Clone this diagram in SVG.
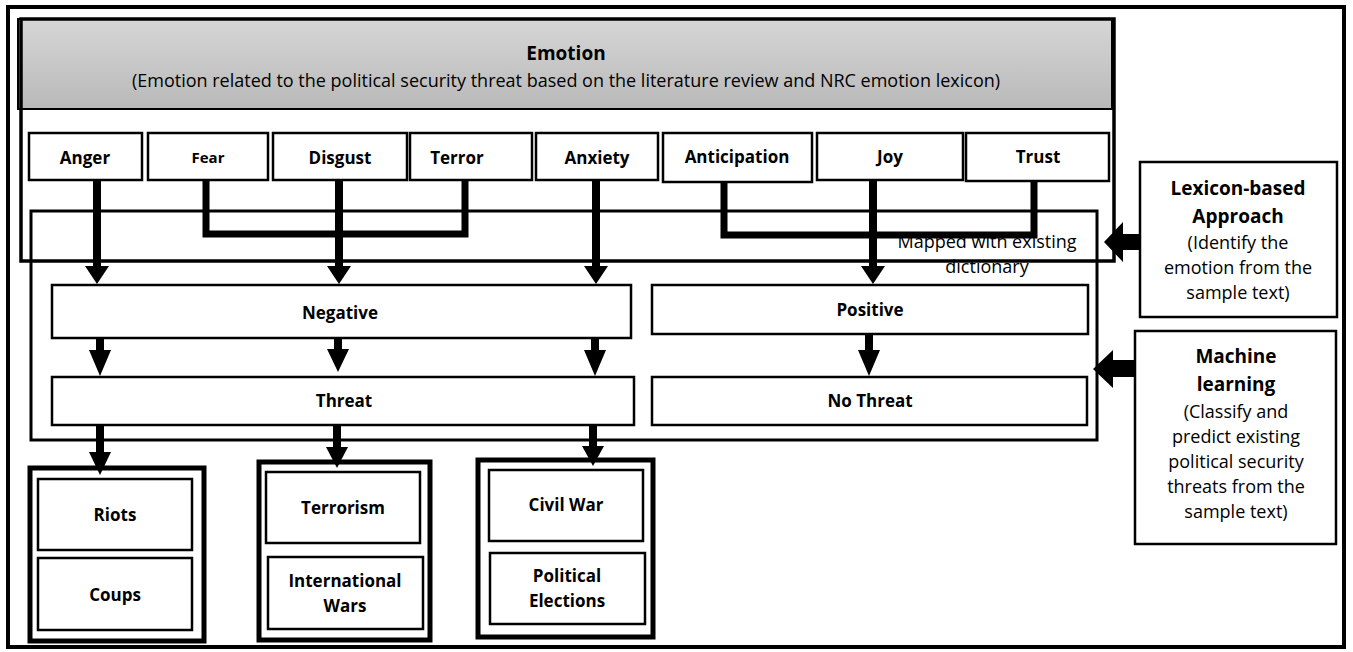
<svg xmlns="http://www.w3.org/2000/svg" width="1353" height="652" viewBox="0 0 1353 652">
<defs>
<linearGradient id="gray" x1="0" y1="0" x2="0" y2="1">
<stop offset="0" stop-color="#d6d6d6"/>
<stop offset="1" stop-color="#b9b9b9"/>
</linearGradient>
<style>
text{font-family:"Open Sans","Liberation Sans",sans-serif;fill:#000;text-anchor:middle}
.b{font-weight:bold;font-size:17px}
.r{font-size:18px}
.t{font-weight:bold;font-size:19px}
.box{fill:#fff;stroke:#000;stroke-width:2.5}
.frame{fill:none;stroke:#000}
.conn{fill:none;stroke:#000;stroke-width:7;stroke-linejoin:miter}
.ah{fill:#000;stroke:none}
</style>
</defs>
<rect x="0" y="0" width="1353" height="652" fill="#fff"/>
<!-- outer frame -->
<rect x="8" y="7" width="1336" height="640" class="frame" stroke-width="4"/>

<!-- emotion header frame -->
<g id="emotion">
<rect x="18" y="19" width="1094" height="90" fill="url(#gray)" stroke="#000" stroke-width="2"/>
<rect x="21" y="19" width="1093" height="242" class="frame" stroke-width="3.5"/>
<text x="566" y="60" class="t">Emotion</text>
<text x="566" y="87" class="r">(Emotion related to the political security threat based on the literature review and NRC emotion lexicon)</text>
</g>

<!-- sentiment frame -->
<rect id="sentiment-frame" x="31" y="211" width="1066" height="229" class="frame" stroke-width="3"/>

<g id="anger"><rect x="29" y="133" width="113" height="47" class="box"/><text x="85" y="164" class="b">Anger</text></g>
<g id="fear"><rect x="148" y="133" width="120" height="47" class="box"/><text x="208" y="163" class="b" style="font-size:15px">Fear</text></g>
<g id="disgust"><rect x="273" y="133" width="134" height="47" class="box"/><text x="340" y="164" class="b">Disgust</text></g>
<g id="terror"><rect x="410" y="133" width="122" height="47" class="box"/><text x="457" y="164" class="b">Terror</text></g>
<g id="anxiety"><rect x="536" y="133" width="122" height="47" class="box"/><text x="597" y="164" class="b">Anxiety</text></g>
<g id="anticipation"><rect x="663" y="133" width="149" height="49" class="box"/><text x="737" y="163" class="b">Anticipation</text></g>
<g id="joy"><rect x="817" y="133" width="146" height="47" class="box"/><text x="890" y="163" class="b">Joy</text></g>
<g id="trust"><rect x="966" y="133" width="143" height="48" class="box"/><text x="1038" y="163" class="b">Trust</text></g>

<g id="negative"><rect x="52" y="285" width="579" height="53" class="box"/><text x="340" y="319" class="b">Negative</text></g>
<g id="positive"><rect x="652" y="285" width="436" height="49" class="box"/><text x="870" y="316" class="b">Positive</text></g>
<g id="threat"><rect x="52" y="377" width="582" height="48" class="box"/><text x="344" y="407" class="b">Threat</text></g>
<g id="no-threat"><rect x="652" y="377" width="435" height="48" class="box"/><text x="870" y="407" class="b">No Threat</text></g>

<g id="group1">
<rect x="30" y="468" width="174" height="173" class="frame" stroke-width="5"/>
<g id="riots"><rect x="38" y="479" width="154" height="71" class="box"/><text x="115" y="521" class="b">Riots</text></g>
<g id="coups"><rect x="38" y="558" width="154" height="72" class="box"/><text x="115" y="601" class="b">Coups</text></g>
</g>
<g id="group2">
<rect x="259" y="462" width="171" height="178" class="frame" stroke-width="5"/>
<g id="terrorism"><rect x="266" y="472" width="154" height="71" class="box"/><text x="343" y="514" class="b">Terrorism</text></g>
<g id="intl-wars"><rect x="268" y="557" width="155" height="72" class="box"/><text x="345" y="587" class="b">International</text><text x="345" y="612" class="b">Wars</text></g>
</g>
<g id="group3">
<rect x="478" y="460" width="175" height="177" class="frame" stroke-width="5"/>
<g id="civil-war"><rect x="489" y="470" width="154" height="71" class="box"/><text x="566" y="511" class="b">Civil War</text></g>
<g id="elections"><rect x="490" y="553" width="155" height="71" class="box"/><text x="567" y="582" class="b">Political</text><text x="567" y="607" class="b">Elections</text></g>
</g>

<g id="lexicon">
<rect x="1140" y="162" width="197" height="155" class="box"/>
<text x="1238" y="195" class="t">Lexicon-based</text>
<text x="1238" y="223" class="t">Approach</text>
<text x="1238" y="249" class="r">(Identify the</text>
<text x="1238" y="274" class="r">emotion from the</text>
<text x="1238" y="299" class="r">sample text)</text>
</g>
<g id="machine-learning">
<rect x="1135" y="331" width="201" height="213" class="box"/>
<text x="1236" y="363" class="t">Machine</text>
<text x="1236" y="391" class="t">learning</text>
<text x="1236" y="418" class="r">(Classify and</text>
<text x="1236" y="443" class="r">predict existing</text>
<text x="1236" y="468" class="r">political security</text>
<text x="1236" y="493" class="r">threats from the</text>
<text x="1236" y="518" class="r">sample text)</text>
</g>

<g id="connectors">
<!-- emotion -> negative/positive -->
<rect x="93" y="180" width="8" height="87" class="ah"/><polygon points="85,266 109,266 97,284" class="ah"/>
<rect x="335" y="180" width="8" height="87" class="ah"/><polygon points="327,266 351,266 339,284" class="ah"/>
<rect x="592" y="180" width="8" height="87" class="ah"/><polygon points="584,266 608,266 596,284" class="ah"/>
<rect x="869" y="180" width="8" height="87" class="ah"/><polygon points="861,266 885,266 873,284" class="ah"/>
<polyline points="206,180 206,234 465,234 465,180" class="conn"/>
<polyline points="724,182 724,235 1034,235 1034,181" class="conn"/>
<!-- negative -> threat -->
<rect x="96" y="338" width="8" height="13" class="ah"/><polygon points="89,350 111,350 100,376" class="ah"/>
<rect x="334" y="338" width="8" height="12" class="ah"/><polygon points="327,349 349,349 338,372" class="ah"/>
<rect x="591" y="338" width="8" height="13" class="ah"/><polygon points="584,350 606,350 595,376" class="ah"/>
<!-- positive -> no threat -->
<rect x="865" y="334" width="8" height="17" class="ah"/><polygon points="858,350 880,350 869,376" class="ah"/>
<!-- threat -> groups -->
<rect x="96" y="425" width="8" height="28" class="ah"/><polygon points="89,452 111,452 100,475" class="ah"/>
<rect x="333" y="425" width="8" height="23" class="ah"/><polygon points="326,447 348,447 337,468" class="ah"/>
<rect x="589" y="425" width="8" height="22" class="ah"/><polygon points="582,446 604,446 593,466" class="ah"/>
<!-- lexicon -> frame -->
<polygon points="1104,242 1123,222 1123,234 1140,234 1140,250 1123,250 1123,262" class="ah"/>
<!-- machine learning -> frame -->
<polygon points="1093,369 1113,350 1113,360 1135,360 1135,377 1113,377 1113,388" class="ah"/>
</g>

<g id="mapped-label">
<text x="987" y="248" class="r">Mapped with existing</text>
<text x="987" y="273" class="r">dictionary</text>
</g>
</svg>
